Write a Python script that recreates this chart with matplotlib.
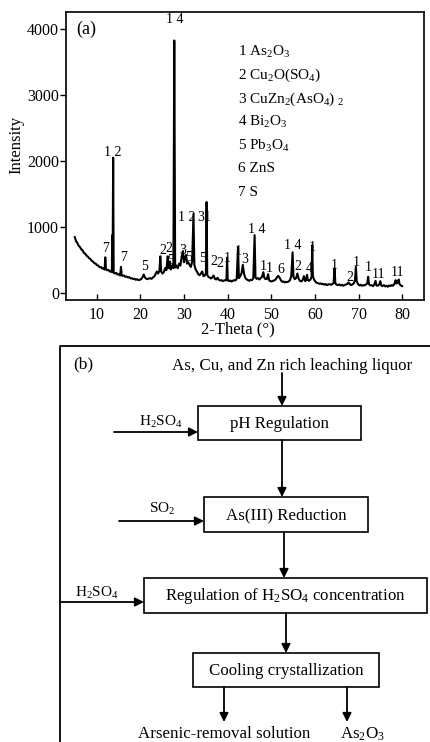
import matplotlib
matplotlib.use('Agg')
from matplotlib import pyplot as plt
from matplotlib.patches import Rectangle

plt.rcParams['font.family'] = ['Liberation Serif', 'DejaVu Serif']
plt.rcParams['mathtext.fontset'] = 'custom'
plt.rcParams['mathtext.rm'] = 'Liberation Serif'
plt.rcParams['mathtext.it'] = 'Liberation Serif:italic'

# XRD trace: (2-theta, intensity)
two_theta = [
    5.0, 5.3, 5.6, 5.9, 6.2, 6.5, 6.8, 7.1, 7.4, 7.7, 8.0, 8.3, 8.6, 8.9, 9.2, 9.5, 9.8,
    10.1, 10.4, 10.7, 11.0, 11.3, 11.6, 11.85, 12.0, 12.15, 12.4, 12.7, 13.0, 13.3, 13.5,
    13.6, 13.68, 13.8, 13.92, 14.2, 14.5, 14.8, 15.1, 15.4, 15.6, 15.75, 16.0, 16.3, 16.6,
    16.9, 17.2, 17.5, 17.8, 18.1, 18.4, 18.7, 19.0, 19.3, 19.6, 19.9, 20.2, 20.5, 20.8,
    21.1, 21.4, 21.7, 22.0, 22.3, 22.6, 22.9, 23.2, 23.5, 23.8, 24.1, 24.4, 24.6, 24.8,
    25.1, 25.4, 25.7, 26.0, 26.3, 26.5, 26.8, 27.0, 27.3, 27.6, 27.8, 28.0, 28.3, 28.6,
    28.9, 29.2, 29.5, 29.8, 30.0, 30.2, 30.5, 30.7, 31.0, 31.3, 31.6, 31.9, 32.2, 32.4,
    32.7, 33.0, 33.3, 33.6, 33.9, 34.2, 34.5, 34.8, 35.05, 35.2, 35.35, 35.6, 35.9, 36.2,
    36.5, 36.8, 37.1, 37.4, 37.7, 38.0, 38.3, 38.6, 38.9, 39.2, 39.5, 39.75, 39.9, 40.05,
    40.3, 40.6, 40.9, 41.2, 41.5, 41.8, 42.1, 42.4, 42.6, 42.9, 43.2, 43.5, 43.8, 44.1,
    44.4, 44.7, 45.0, 45.3, 45.6, 45.9, 46.2, 46.4, 46.7, 47.0, 47.3, 47.6, 47.9, 48.2,
    48.4, 48.7, 49.0, 49.3, 49.5, 49.8, 50.1, 50.4, 50.7, 51.0, 51.3, 51.6, 51.9, 52.2,
    52.5, 52.8, 53.1, 53.4, 53.7, 54.0, 54.3, 54.6, 54.9, 55.1, 55.4, 55.7, 56.0, 56.3,
    56.6, 56.9, 57.2, 57.5, 57.8, 58.0, 58.2, 58.4, 58.7, 59.0, 59.25, 59.4, 59.55, 59.8,
    60.1, 60.4, 60.7, 61.0, 61.3, 61.6, 61.9, 62.2, 62.5, 62.8, 63.1, 63.4, 63.7, 64.0,
    64.3, 64.5, 64.7, 65.0, 65.3, 65.6, 65.9, 66.2, 66.5, 66.8, 67.1, 67.4, 67.7, 68.0,
    68.3, 68.6, 68.9, 69.2, 69.4, 69.6, 69.9, 70.2, 70.5, 70.8, 71.1, 71.4, 71.7, 72.0,
    72.2, 72.4, 72.7, 73.0, 73.3, 73.6, 73.9, 74.1, 74.4, 74.7, 75.0, 75.2, 75.5, 75.8,
    76.1, 76.4, 76.7, 77.0, 77.3, 77.6, 77.9, 78.2, 78.5, 78.7, 79.0, 79.2, 79.4, 79.7, 80.0,
]
intensity = [
    850, 790, 760, 720, 700, 665, 650, 610, 600, 570, 555, 530, 520, 490, 480, 455, 450,
    425, 420, 395, 400, 375, 380, 360, 545, 365, 350, 355, 330, 340, 320,
    880, 420, 2050, 310, 300, 310, 285, 290, 270, 400, 275, 265, 270, 250,
    255, 240, 245, 225, 230, 215, 220, 205, 215, 200, 205, 215, 240, 285,
    240, 220, 215, 225, 230, 220, 240, 255, 290, 330, 300, 340, 560, 330,
    300, 320, 380, 350, 560, 380, 480, 360, 420, 380, 3820, 390, 420, 380,
    450, 420, 560, 640, 470, 520, 580, 450, 470, 430, 400, 480, 1200, 430,
    360, 330, 290, 275, 300, 330, 260, 270, 300, 1380, 280, 250, 240, 225,
    240, 270, 220, 210, 235, 205, 195, 200, 185, 195, 200, 195, 540, 200,
    185, 195, 180, 190, 200, 195, 220, 700, 230, 260, 300, 430, 290, 230,
    210, 200, 190, 205, 200, 230, 880, 240, 220, 230, 210, 230, 250, 320,
    240, 215, 220, 290, 200, 185, 180, 190, 195, 210, 240, 265, 240, 200,
    175, 180, 165, 175, 170, 180, 200, 260, 620, 250, 215, 230, 300, 220,
    190, 180, 200, 260, 185, 200, 280, 200, 190, 210, 250, 730, 260, 210,
    180, 160, 155, 145, 150, 140, 145, 130, 140, 125, 135, 140, 130, 140,
    160, 380, 150, 130, 125, 135, 120, 130, 115, 125, 135, 140, 165, 140,
    125, 135, 150, 200, 400, 180, 140, 120, 130, 115, 125, 120, 135, 150,
    250, 140, 120, 125, 110, 130, 190, 120, 115, 130, 185, 120, 110, 125,
    105, 115, 100, 120, 110, 125, 115, 140, 200, 150, 165, 210, 140, 120, 110,
]

# peak marks: label, 2-theta, intensity
peak_labels = ['7', '1 2', '7', '5', '2', '2', '5', '1 4', '3', '5', '1 2', '3', '1',
               '5', '2', '2', '1', '1', '3', '1 4', '1', '1', '6', '1 4', '2', '4', '1',
               '1', '2', '1', '1', '11', '11']
peak_x = [12.1, 13.8, 16.1, 20.9, 25.1, 26.6, 27.0, 28.0, 29.8, 31.1, 30.6, 33.9, 35.3,
          34.3, 36.8, 38.2, 40.0, 42.4, 44.0, 46.8, 48.1, 49.5, 52.1, 54.9, 56.0, 58.7, 59.4,
          64.5, 68.0, 69.5, 72.2, 74.6, 78.9]
peak_y = [680, 2130, 540, 410, 650, 680, 500, 4130, 650, 540, 1140, 1140, 1140,
          530, 480, 455, 530, 630, 510, 960, 400, 370, 360, 730, 400, 370, 690,
          420, 240, 460, 390, 285, 310]

phases = ['1 As$_2$O$_3$', '2 Cu$_2$O(SO$_4$)', '3 CuZn$_2$(AsO$_4$) $_2$',
          '4 Bi$_2$O$_3$', '5 Pb$_3$O$_4$', '6 ZnS', '7 S']

fig = plt.figure(figsize=(4.3, 7.42), dpi=100)

# ---- panel (b): flow sheet, drawn in pixel coordinates ----
axb = fig.add_axes([0, 0, 1, 1])
axb.set_xlim(0, 430)
axb.set_ylim(742, 0)
axb.axis('off')

feed = 'As, Cu, and Zn rich leaching liquor'
steps = ['pH Regulation', 'As(III) Reduction',
         'Regulation of H$_2$SO$_4$ concentration', 'Cooling crystallization']
reagents = ['H$_2$SO$_4$', 'SO$_2$', 'H$_2$SO$_4$']
products = ['Arsenic-removal solution', 'As$_2$O$_3$']

# frame (left and top edges only)
axb.plot([60, 60, 431], [742, 346, 346], color='black', lw=1.3, clip_on=False)
axb.text(73, 364, '(b)', fontsize=12.5, va='center', ha='left')

boxes = [(198, 406, 361, 440), (204, 497, 368, 532), (144, 578, 427, 613), (193, 653, 379, 687)]
for (x0, y0, x1, y1), s in zip(boxes, steps):
    axb.add_patch(Rectangle((x0, y0), x1 - x0, y1 - y0, fill=False, ec='black', lw=1.2))
    axb.text((x0 + x1) / 2, (y0 + y1) / 2 + 1, s, fontsize=12.2, ha='center', va='center')

axb.text(292, 366, feed, fontsize=12.2, ha='center', va='center')


def arrow(x0, y0, x1, y1):
    axb.annotate('', xy=(x1, y1), xytext=(x0, y0),
                 arrowprops=dict(arrowstyle='-|>', color='black', lw=1.3,
                                 mutation_scale=13, shrinkA=0, shrinkB=0))


arrow(282, 373, 282, 406)
arrow(282, 440, 282, 497)
arrow(284, 532, 284, 578)
arrow(286, 613, 286, 653)
arrow(224, 687, 224, 722)
arrow(347, 687, 347, 722)
arrow(114, 432, 198, 432)
arrow(119, 521, 204, 521)
arrow(60, 602, 144, 602)

axb.text(161, 422, reagents[0], fontsize=11, ha='center', va='center')
axb.text(162, 509, reagents[1], fontsize=11, ha='center', va='center')
axb.text(97, 593, reagents[2], fontsize=11, ha='center', va='center')
axb.text(224, 734, products[0], fontsize=12.2, ha='center', va='center')
axb.text(362, 734, products[1], fontsize=12.2, ha='center', va='center')

# ---- panel (a): XRD pattern ----
ax = fig.add_axes([66 / 430, 1 - 300 / 742, 358 / 430, 288 / 742])
ax.plot(two_theta, intensity, color='black', lw=1.5)
ax.set_xlim(3, 85)
ax.set_ylim(-100, 4250)
ax.set_xticks(range(10, 81, 10))
ax.set_yticks(range(0, 4001, 1000))
ax.tick_params(axis='x', direction='in', length=4, width=1, labelsize=11.5, pad=5)
ax.tick_params(axis='y', direction='out', length=4, width=1, labelsize=11.5, pad=1)
for sp in ax.spines.values():
    sp.set_linewidth(1.2)
ax.set_xlabel('2-Theta (\u00b0)', fontsize=12)
ax.set_ylabel('Intensity', fontsize=12)
ax.xaxis.set_label_coords(0.48, -0.076)
ax.yaxis.set_label_coords(-0.117, 0.54)
ax.text(0.03, 0.94, '(a)', transform=ax.transAxes, fontsize=13, va='center')

for s, x, y in zip(peak_labels, peak_x, peak_y):
    ax.text(x, y, s, fontsize=10, ha='center', va='center')

for i, s in enumerate(phases):
    ax.text(42.3, 3640 - i * 352, s, fontsize=11, ha='left', va='center')

fig.savefig('out.png', dpi=100)
